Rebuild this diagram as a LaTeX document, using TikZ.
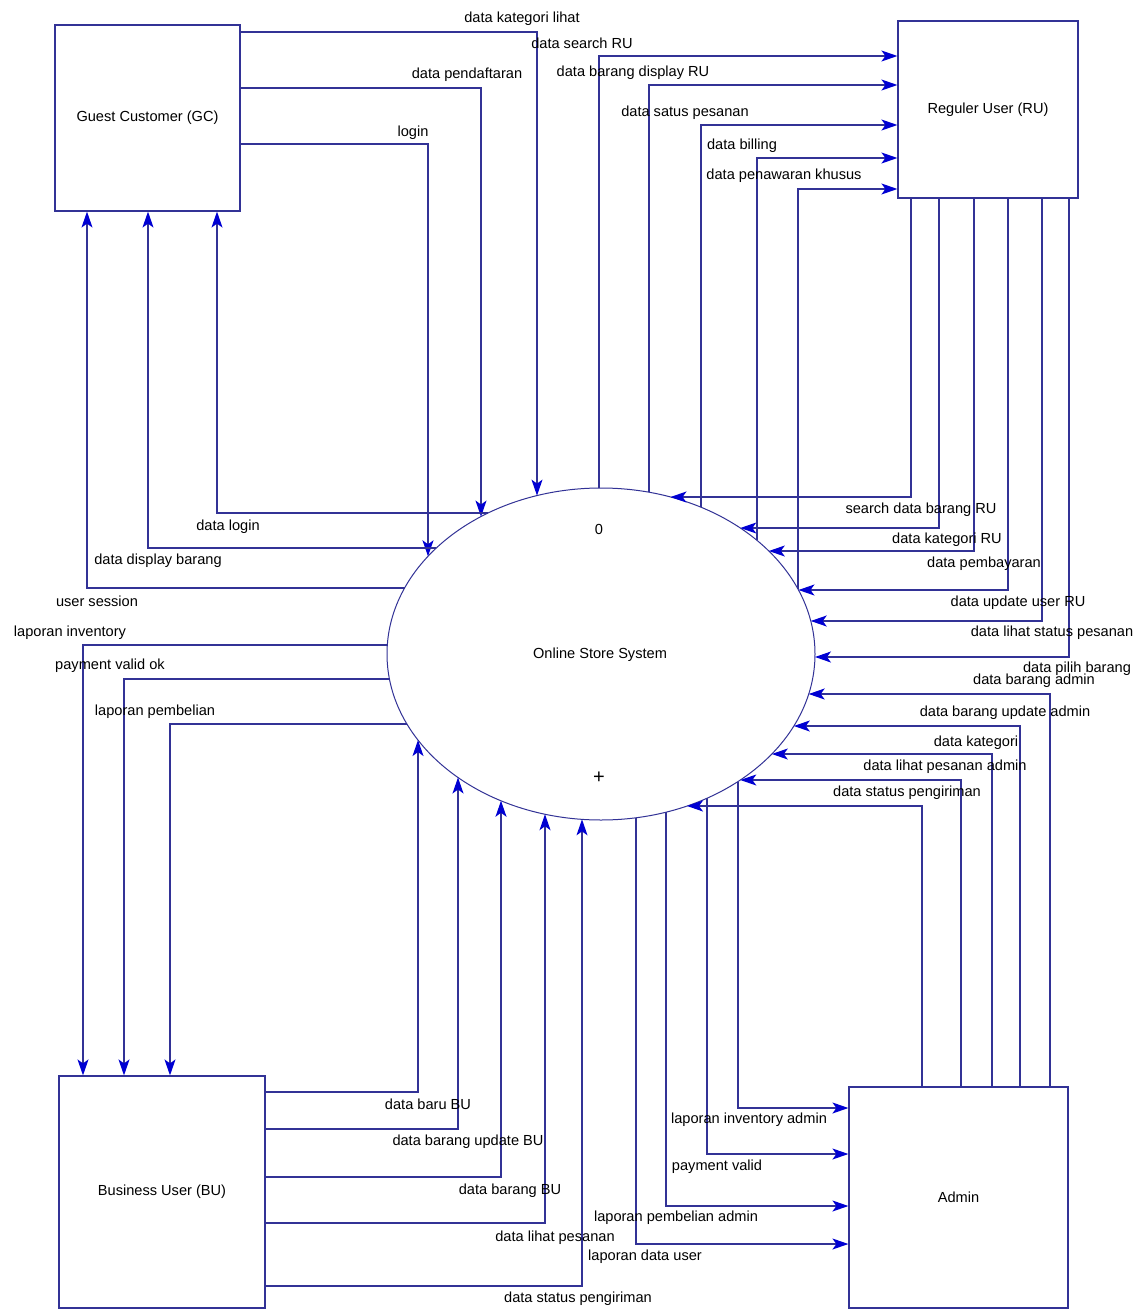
\documentclass[tikz,border=0pt]{standalone}
\usepackage{fontspec}
\setmainfont{Liberation Sans}
\usetikzlibrary{arrows.meta,shapes.geometric}
\definecolor{lc}{RGB}{50,50,150}
\definecolor{ac}{RGB}{0,0,210}
% points on the process ellipse (centre 601,654; radii 214,166)
\newcommand\etop[2]{\coordinate (#1) at ({#2},{654-166*sqrt(1-((#2-601)/214)*((#2-601)/214))});}
\newcommand\ebot[2]{\coordinate (#1) at ({#2},{654+166*sqrt(1-((#2-601)/214)*((#2-601)/214))});}
\newcommand\eleft[2]{\coordinate (#1) at ({601-214*sqrt(1-((#2-654)/166)*((#2-654)/166))},{#2});}
\newcommand\eright[2]{\coordinate (#1) at ({601+214*sqrt(1-((#2-654)/166)*((#2-654)/166))},{#2});}
\begin{document}
\begin{tikzpicture}[x=1pt,y=-1pt,
  ent/.style={draw=lc, line width=1.2pt, rectangle, inner sep=0pt, font=\fontsize{14.6}{17}\selectfont},
  proc/.style={draw=lc, line width=1pt, ellipse, inner sep=0pt},
  flow/.style={draw=lc, line width=1.2pt, -{Stealth[length=16pt,width=11pt,inset=4pt,color=ac]}},
  lbl/.style={inner sep=0pt, font=\fontsize{14.6}{17}\selectfont, text=black}]
\fill[white] (0,0) rectangle (1144,1309);
\useasboundingbox (0,0) rectangle (1144,1309);

% entities
\node[ent, minimum width=185pt, minimum height=186pt] (GC) at (147.5,118) {Guest Customer (GC)};
\node[ent, minimum width=180pt, minimum height=177pt] (RU) at (988,109.5) {Reguler User (RU)};
\node[ent, minimum width=206pt, minimum height=232pt] (BU) at (162,1192) {Business User (BU)};
\node[ent, minimum width=219pt, minimum height=221pt] (AD) at (958.5,1197.5) {Admin};

% process
\node[proc, minimum width=428pt, minimum height=332pt] (P) at (601,654) {};
\node[lbl] (Pname) at (600,655) {Online Store System};
\node[lbl] (Pnum) at (599,529) {0};
\node[lbl, font=\fontsize{20}{22}\selectfont] (Pplus) at (599,778) {+};

% ---- GC -> P
\coordinate (b1) at (537,32);  \etop{t1}{537}
\coordinate (b2) at (481,88);  \etop{t2}{481}
\coordinate (b3) at (428,144); \etop{t3}{428}
\draw[flow] (GC.east |- b1) -- (b1) -- (t1);
\draw[flow] (GC.east |- b2) -- (b2) -- (t2);
\draw[flow] (GC.east |- b3) -- (b3) -- (t3);

% ---- P -> GC
\eleft{s4}{513} \coordinate (b4) at (217,513);
\eleft{s5}{548} \coordinate (b5) at (148,548);
\eleft{s6}{588} \coordinate (b6) at (87,588);
\draw[flow] (s4) -- (b4) -- (b4 |- GC.south);
\draw[flow] (s5) -- (b5) -- (b5 |- GC.south);
\draw[flow] (s6) -- (b6) -- (b6 |- GC.south);

% ---- P -> BU
\eleft{s7}{645} \coordinate (b7) at (83,645);
\eleft{s8}{679} \coordinate (b8) at (124,679);
\eleft{s9}{724} \coordinate (b9) at (170,724);
\draw[flow] (s7) -- (b7) -- (b7 |- BU.north);
\draw[flow] (s8) -- (b8) -- (b8 |- BU.north);
\draw[flow] (s9) -- (b9) -- (b9 |- BU.north);

% ---- BU -> P
\coordinate (b10) at (418,1092); \ebot{t10}{418}
\coordinate (b11) at (458,1129); \ebot{t11}{458}
\coordinate (b12) at (501,1177); \ebot{t12}{501}
\coordinate (b13) at (545,1223); \ebot{t13}{545}
\coordinate (b14) at (582,1286); \ebot{t14}{582}
\draw[flow] (BU.east |- b10) -- (b10) -- (t10);
\draw[flow] (BU.east |- b11) -- (b11) -- (t11);
\draw[flow] (BU.east |- b12) -- (b12) -- (t12);
\draw[flow] (BU.east |- b13) -- (b13) -- (t13);
\draw[flow] (BU.east |- b14) -- (b14) -- (t14);

% ---- P -> Admin
\ebot{s15}{738} \coordinate (b15) at (738,1108);
\ebot{s16}{707} \coordinate (b16) at (707,1154);
\ebot{s17}{666} \coordinate (b17) at (666,1206);
\ebot{s18}{636} \coordinate (b18) at (636,1244);
\draw[flow] (s15) -- (b15) -- (b15 -| AD.west);
\draw[flow] (s16) -- (b16) -- (b16 -| AD.west);
\draw[flow] (s17) -- (b17) -- (b17 -| AD.west);
\draw[flow] (s18) -- (b18) -- (b18 -| AD.west);

% ---- Admin -> P
\coordinate (b19) at (1050,694); \eright{t19}{694}
\coordinate (b20) at (1020,726); \eright{t20}{726}
\coordinate (b21) at (992,754);  \eright{t21}{754}
\coordinate (b22) at (961,780);  \eright{t22}{780}
\coordinate (b23) at (922,806);  \eright{t23}{806}
\draw[flow] (b19 |- AD.north) -- (b19) -- (t19);
\draw[flow] (b20 |- AD.north) -- (b20) -- (t20);
\draw[flow] (b21 |- AD.north) -- (b21) -- (t21);
\draw[flow] (b22 |- AD.north) -- (b22) -- (t22);
\draw[flow] (b23 |- AD.north) -- (b23) -- (t23);

% ---- RU -> P
\coordinate (b24) at (911,497);  \eright{t24}{497}
\coordinate (b25) at (939,528);  \eright{t25}{528}
\coordinate (b26) at (974,551);  \eright{t26}{551}
\coordinate (b27) at (1008,590); \eright{t27}{590}
\coordinate (b28) at (1042,621); \eright{t28}{621}
\coordinate (b29) at (1069,657); \eright{t29}{657}
\draw[flow] (b24 |- RU.south) -- (b24) -- (t24);
\draw[flow] (b25 |- RU.south) -- (b25) -- (t25);
\draw[flow] (b26 |- RU.south) -- (b26) -- (t26);
\draw[flow] (b27 |- RU.south) -- (b27) -- (t27);
\draw[flow] (b28 |- RU.south) -- (b28) -- (t28);
\draw[flow] (b29 |- RU.south) -- (b29) -- (t29);

% ---- P -> RU
\etop{s30}{599} \coordinate (b30) at (599,56);
\etop{s31}{649} \coordinate (b31) at (649,85);
\etop{s32}{701} \coordinate (b32) at (701,125);
\etop{s33}{757} \coordinate (b33) at (757,158);
\etop{s34}{798} \coordinate (b34) at (798,189);
\draw[flow] (s30) -- (b30) -- (b30 -| RU.west);
\draw[flow] (s31) -- (b31) -- (b31 -| RU.west);
\draw[flow] (s32) -- (b32) -- (b32 -| RU.west);
\draw[flow] (s33) -- (b33) -- (b33 -| RU.west);
\draw[flow] (s34) -- (b34) -- (b34 -| RU.west);

% ---- labels
\node[lbl] (l1)  at (522,19)   {data kategori lihat};
\node[lbl] (l2)  at (467,75)   {data pendaftaran};
\node[lbl] (l3)  at (413,133)  {login};
\node[lbl] (l4)  at (228,527)  {data login};
\node[lbl] (l5)  at (158,561)  {data display barang};
\node[lbl] (l6)  at (97,601)   {user session};
\node[lbl] (l7)  at (70,633)   {laporan inventory};
\node[lbl] (l8)  at (110,666)  {payment valid ok};
\node[lbl] (l9)  at (155,712)  {laporan pembelian};
\node[lbl] (l10) at (428,1104) {data baru BU};
\node[lbl] (l11) at (468,1142) {data barang update BU};
\node[lbl] (l12) at (510,1191) {data barang BU};
\node[lbl] (l13) at (555,1238) {data lihat pesanan};
\node[lbl] (l14) at (578,1299) {data status pengiriman};
\node[lbl] (l15) at (749,1120) {laporan inventory admin};
\node[lbl] (l16) at (717,1167) {payment valid};
\node[lbl] (l17) at (676,1218) {laporan pembelian admin};
\node[lbl] (l18) at (645,1257) {laporan data user};
\node[lbl] (l19) at (1034,681) {data barang admin};
\node[lbl] (l20) at (1005,713) {data barang update admin};
\node[lbl] (l21) at (976,743)  {data kategori};
\node[lbl] (l22) at (945,767)  {data lihat pesanan admin};
\node[lbl] (l23) at (907,793)  {data status pengiriman};
\node[lbl] (l24) at (921,510)  {search data barang RU};
\node[lbl] (l25) at (947,540)  {data kategori RU};
\node[lbl] (l26) at (984,564)  {data pembayaran};
\node[lbl] (l27) at (1018,603) {data update user RU};
\node[lbl] (l28) at (1052,633) {data lihat status pesanan};
\node[lbl] (l29) at (1077,669) {data pilih barang};
\node[lbl] (l30) at (582,43)   {data search RU};
\node[lbl] (l31) at (633,73)   {data barang display RU};
\node[lbl] (l32) at (685,113)  {data satus pesanan};
\node[lbl] (l33) at (742,146)  {data billing};
\node[lbl] (l34) at (784,176)  {data penawaran khusus};
\end{tikzpicture}
\end{document}
